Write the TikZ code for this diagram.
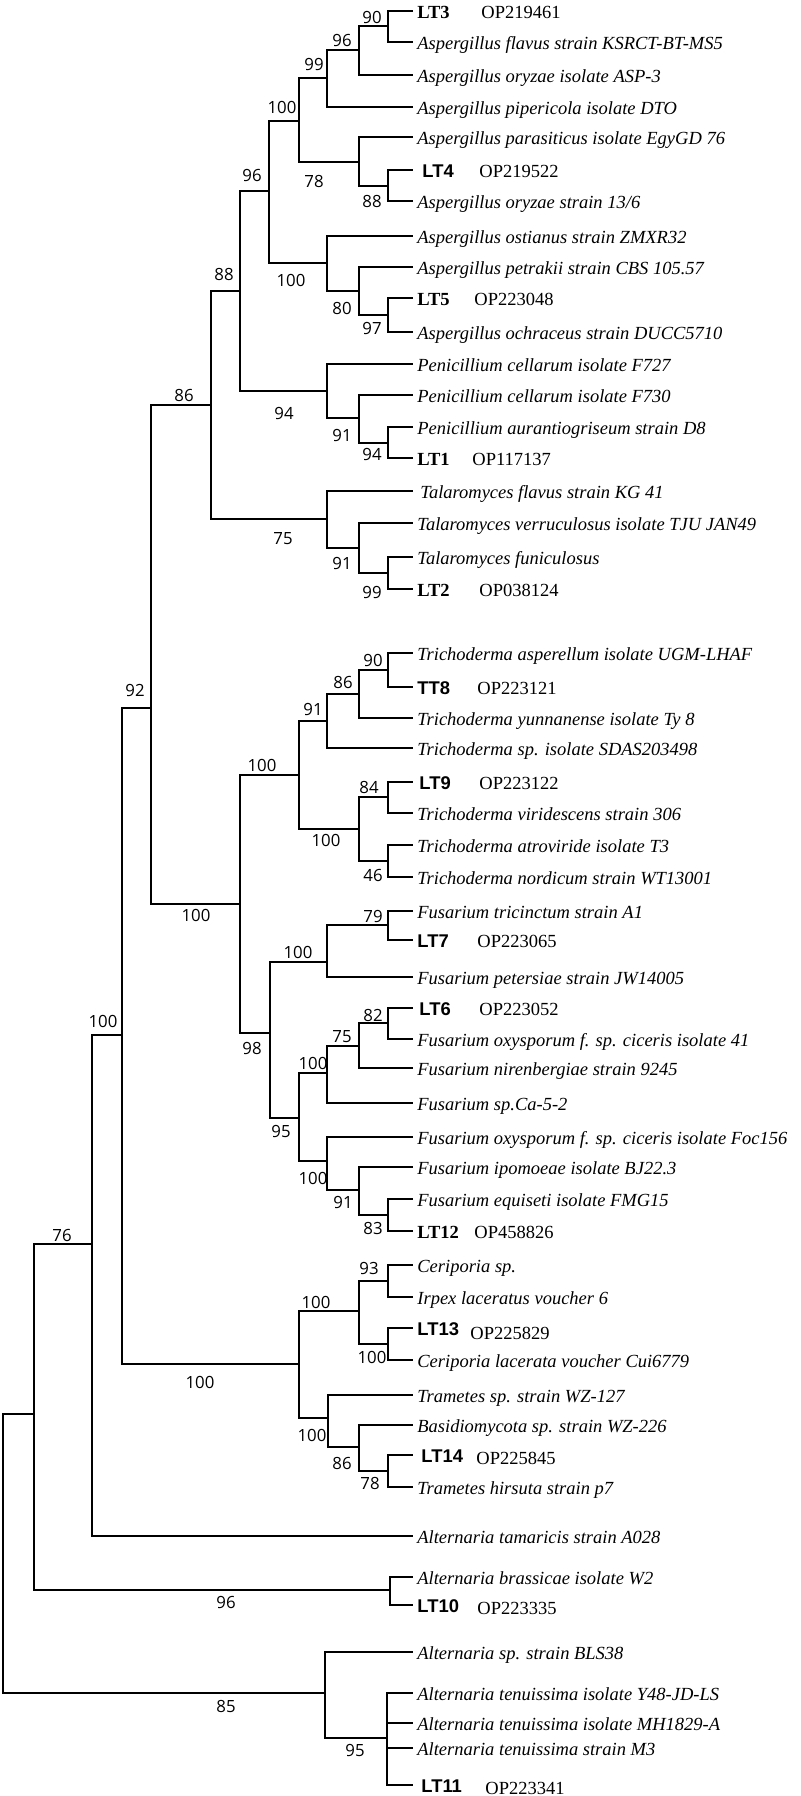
\documentclass[tikz,border=0pt]{standalone}
\usepackage{fontspec}
\setmainfont{Liberation Serif}
\newfontfamily\lsans{Liberation Sans}
\newfontfamily\bsfont{Open Sans}
\begin{document}
\begin{tikzpicture}[x=0.5pt,y=-0.5pt]
\tikzset{
 br/.style={draw=black, line width=1pt},
 sp/.style={anchor=west, inner xsep=2pt, inner ysep=0pt, text height=9pt, text depth=1.3pt, font=\fontsize{9.25}{10}\selectfont\itshape},
 lts/.style={sp, font=\fontsize{9.2}{10}\selectfont\lsans\bfseries},
 ltr/.style={sp, font=\fontsize{9.25}{10}\selectfont\bfseries},
 acc/.style={anchor=west, inner sep=0pt, text height=9pt, text depth=1.3pt, font=\fontsize{9.25}{10}\selectfont},
 bs/.style={inner sep=0pt, font=\fontsize{8.4}{10}\selectfont\bsfont},
}
\useasboundingbox (0,0) rectangle (800,1796);
\fill[white] (0,0) rectangle (800,1796);

% ---------- leaves ----------
\node[ltr] (l1) at (413,11) {LT3}; \node[acc] (a1) at (481,11) {OP219461};
\node[sp] (l2) at (413,42) {Aspergillus flavus strain KSRCT-BT-MS5};
\node[sp] (l3) at (413,75) {Aspergillus oryzae isolate ASP-3};
\node[sp] (l4) at (413,107) {Aspergillus pipericola isolate DTO};
\node[sp] (l5) at (413,137) {Aspergillus parasiticus isolate EgyGD 76};
\node[lts, inner xsep=4.5pt] (l6) at (413,170) {LT4}; \node[acc] (a6) at (479,170) {OP219522};
\node[sp] (l7) at (413,201) {Aspergillus oryzae strain 13/6};
\node[sp] (l8) at (413,236) {Aspergillus ostianus strain ZMXR32};
\node[sp] (l9) at (413,267) {Aspergillus petrakii strain CBS 105.57};
\node[ltr] (l10) at (413,298) {LT5}; \node[acc] (a10) at (474,298) {OP223048};
\node[sp] (l11) at (413,332) {Aspergillus ochraceus strain DUCC5710};
\node[sp] (l12) at (413,364) {Penicillium cellarum isolate F727};
\node[sp] (l13) at (413,395) {Penicillium cellarum isolate F730};
\node[sp] (l14) at (413,427) {Penicillium aurantiogriseum strain D8};
\node[ltr] (l15) at (413,458) {LT1}; \node[acc] (a15) at (472,458) {OP117137};
\node[sp, inner xsep=3.5pt] (l16) at (413,491) {Talaromyces flavus strain KG 41};
\node[sp] (l17) at (413,523) {Talaromyces verruculosus isolate TJU JAN49};
\node[sp] (l18) at (413,557) {Talaromyces funiculosus};
\node[ltr] (l19) at (413,589) {LT2}; \node[acc] (a19) at (479,589) {OP038124};
\node[sp] (l20) at (413,653) {Trichoderma asperellum isolate UGM-LHAF};
\node[lts] (l21) at (413,687) {TT8}; \node[acc] (a21) at (477,687) {OP223121};
\node[sp] (l22) at (413,718) {Trichoderma yunnanense isolate Ty 8};
\node[sp] (l23) at (413,748) {Trichoderma sp. isolate SDAS203498};
\node[lts, inner xsep=3pt] (l24) at (413,782) {LT9}; \node[acc] (a24) at (479,782) {OP223122};
\node[sp] (l25) at (413,813) {Trichoderma viridescens strain 306};
\node[sp] (l26) at (413,845) {Trichoderma atroviride isolate T3};
\node[sp] (l27) at (413,877) {Trichoderma nordicum strain WT13001};
\node[sp] (l28) at (413,911) {Fusarium tricinctum strain A1};
\node[lts] (l29) at (413,940) {LT7}; \node[acc] (a29) at (477,940) {OP223065};
\node[sp] (l30) at (413,977) {Fusarium petersiae strain JW14005};
\node[lts, inner xsep=3pt] (l31) at (413,1008) {LT6}; \node[acc] (a31) at (479,1008) {OP223052};
\node[sp] (l32) at (413,1039) {Fusarium oxysporum f. sp. ciceris isolate 41};
\node[sp] (l33) at (413,1068) {Fusarium nirenbergiae strain 9245};
\node[sp] (l34) at (413,1103) {Fusarium sp.Ca-5-2};
\node[sp] (l35) at (413,1137) {Fusarium oxysporum f. sp. ciceris isolate Foc156};
\node[sp] (l36) at (413,1167) {Fusarium ipomoeae isolate BJ22.3};
\node[sp] (l37) at (413,1199) {Fusarium equiseti isolate FMG15};
\node[ltr] (l38) at (413,1231) {LT12}; \node[acc] (a38) at (474,1231) {OP458826};
\node[sp] (l39) at (413,1265) {Ceriporia sp.};
\node[sp] (l40) at (413,1297) {Irpex laceratus voucher 6};
\node[lts] (l41) at (413,1328) {LT13}; \node[acc] (a41) at (470,1332) {OP225829};
\node[sp] (l42) at (413,1360) {Ceriporia lacerata voucher Cui6779};
\node[sp] (l43) at (413,1395) {Trametes sp. strain WZ-127};
\node[sp] (l44) at (413,1425) {Basidiomycota sp. strain WZ-226};
\node[lts, inner xsep=4pt] (l45) at (413,1455) {LT14}; \node[acc] (a45) at (476,1457) {OP225845};
\node[sp] (l46) at (413,1487) {Trametes hirsuta strain p7};
\node[sp] (l47) at (413,1536) {Alternaria tamaricis strain A028};
\node[sp] (l48) at (413,1577) {Alternaria brassicae isolate W2};
\node[lts] (l49) at (413,1605) {LT10}; \node[acc] (a49) at (477,1607) {OP223335};
\node[sp] (l50) at (413,1652) {Alternaria sp. strain BLS38};
\node[sp] (l51) at (413,1693) {Alternaria tenuissima isolate Y48-JD-LS};
\node[sp] (l52) at (413,1723) {Alternaria tenuissima isolate MH1829-A};
\node[sp] (l53) at (413,1748) {Alternaria tenuissima strain M3};
\node[lts, inner xsep=4pt] (l54) at (413,1785) {LT11}; \node[acc] (a54) at (485,1787) {OP223341};

% ---------- internal nodes ----------
\coordinate (root) at (3,1553);
\coordinate (n76) at (34,1414);
\coordinate (nA) at (92,1244);
\coordinate (nB) at (122,1035);
\coordinate (n92) at (151,708);
\coordinate (n86) at (211,405);
\coordinate (n88) at (240,291);
\coordinate (n96b) at (269,191);
\coordinate (n100a) at (299,121);
\coordinate (n99) at (327,78);
\coordinate (n96a) at (359,50);
\coordinate (n90) at (388,26);
\coordinate (n78) at (359,162);
\coordinate (n88a) at (388,186);
\coordinate (n100b) at (327,263);
\coordinate (n80) at (359,291);
\coordinate (n97) at (388,315);
\coordinate (n94b) at (327,391);
\coordinate (n91a) at (359,418);
\coordinate (n94a) at (388,443);
\coordinate (n75) at (327,519);
\coordinate (n91b) at (359,548);
\coordinate (n99b) at (388,573);
\coordinate (nTF) at (240,904);
\coordinate (n100c) at (299,775);
\coordinate (n91c) at (327,721);
\coordinate (n86c) at (359,694);
\coordinate (n90c) at (388,670);
\coordinate (n100d) at (359,829);
\coordinate (n84) at (388,797);
\coordinate (n46) at (388,861);
\coordinate (n98) at (270,1033);
\coordinate (n100e) at (327,962);
\coordinate (n79) at (388,925);
\coordinate (n95) at (299,1118);
\coordinate (n100f) at (327,1073);
\coordinate (n75b) at (359,1046);
\coordinate (n82) at (388,1023);
\coordinate (n100g) at (327,1161);
\coordinate (n91d) at (359,1190);
\coordinate (n83) at (388,1215);
\coordinate (nBas) at (299,1364);
\coordinate (n100h) at (359,1311);
\coordinate (n93) at (388,1281);
\coordinate (n100j) at (388,1344);
\coordinate (n100i) at (328,1418);
\coordinate (n86d) at (359,1447);
\coordinate (n78b) at (388,1471);
\coordinate (n96z) at (390,1590);
\coordinate (n85) at (325,1693);
\coordinate (n95z) at (387,1738);

% ---------- branches ----------
\draw[br] (root) |- (n76); \draw[br] (root) |- (n85);
\draw[br] (n76) |- (nA); \draw[br] (n76) |- (n96z);
\draw[br] (nA) |- (nB); \draw[br] (nA) |- (l47.west);
\draw[br] (nB) |- (n92); \draw[br] (nB) |- (nBas);
\draw[br] (n92) |- (n86); \draw[br] (n92) |- (nTF);
\draw[br] (n86) |- (n88); \draw[br] (n86) |- (n75);
\draw[br] (n88) |- (n96b); \draw[br] (n88) |- (n94b);
\draw[br] (n96b) |- (n100a); \draw[br] (n96b) |- (n100b);
\draw[br] (n100a) |- (n99); \draw[br] (n100a) |- (n78);
\draw[br] (n99) |- (n96a); \draw[br] (n99) |- (l4.west);
\draw[br] (n96a) |- (n90); \draw[br] (n96a) |- (l3.west);
\draw[br] (n90) |- (l1.west); \draw[br] (n90) |- (l2.west);
\draw[br] (n78) |- (l5.west); \draw[br] (n78) |- (n88a);
\draw[br] (n88a) |- (l6.west); \draw[br] (n88a) |- (l7.west);
\draw[br] (n100b) |- (l8.west); \draw[br] (n100b) |- (n80);
\draw[br] (n80) |- (l9.west); \draw[br] (n80) |- (n97);
\draw[br] (n97) |- (l10.west); \draw[br] (n97) |- (l11.west);
\draw[br] (n94b) |- (l12.west); \draw[br] (n94b) |- (n91a);
\draw[br] (n91a) |- (l13.west); \draw[br] (n91a) |- (n94a);
\draw[br] (n94a) |- (l14.west); \draw[br] (n94a) |- (l15.west);
\draw[br] (n75) |- (l16.west); \draw[br] (n75) |- (n91b);
\draw[br] (n91b) |- (l17.west); \draw[br] (n91b) |- (n99b);
\draw[br] (n99b) |- (l18.west); \draw[br] (n99b) |- (l19.west);
\draw[br] (nTF) |- (n100c); \draw[br] (nTF) |- (n98);
\draw[br] (n100c) |- (n91c); \draw[br] (n100c) |- (n100d);
\draw[br] (n91c) |- (n86c); \draw[br] (n91c) |- (l23.west);
\draw[br] (n86c) |- (n90c); \draw[br] (n86c) |- (l22.west);
\draw[br] (n90c) |- (l20.west); \draw[br] (n90c) |- (l21.west);
\draw[br] (n100d) |- (n84); \draw[br] (n100d) |- (n46);
\draw[br] (n84) |- (l24.west); \draw[br] (n84) |- (l25.west);
\draw[br] (n46) |- (l26.west); \draw[br] (n46) |- (l27.west);
\draw[br] (n98) |- (n100e); \draw[br] (n98) |- (n95);
\draw[br] (n100e) |- (n79); \draw[br] (n100e) |- (l30.west);
\draw[br] (n79) |- (l28.west); \draw[br] (n79) |- (l29.west);
\draw[br] (n95) |- (n100f); \draw[br] (n95) |- (n100g);
\draw[br] (n100f) |- (n75b); \draw[br] (n100f) |- (l34.west);
\draw[br] (n75b) |- (n82); \draw[br] (n75b) |- (l33.west);
\draw[br] (n82) |- (l31.west); \draw[br] (n82) |- (l32.west);
\draw[br] (n100g) |- (l35.west); \draw[br] (n100g) |- (n91d);
\draw[br] (n91d) |- (l36.west); \draw[br] (n91d) |- (n83);
\draw[br] (n83) |- (l37.west); \draw[br] (n83) |- (l38.west);
\draw[br] (nBas) |- (n100h); \draw[br] (nBas) |- (n100i);
\draw[br] (n100h) |- (n93); \draw[br] (n100h) |- (n100j);
\draw[br] (n93) |- (l39.west); \draw[br] (n93) |- (l40.west);
\draw[br] (n100j) |- (l41.west); \draw[br] (n100j) |- (l42.west);
\draw[br] (n100i) |- (l43.west); \draw[br] (n100i) |- (n86d);
\draw[br] (n86d) |- (l44.west); \draw[br] (n86d) |- (n78b);
\draw[br] (n78b) |- (l45.west); \draw[br] (n78b) |- (l46.west);
\draw[br] (n96z) |- (l48.west); \draw[br] (n96z) |- (l49.west);
\draw[br] (n85) |- (l50.west); \draw[br] (n85) |- (n95z);
\draw[br] (n95z) |- (l51.west); \draw[br] (n95z) |- (l52.west);
\draw[br] (n95z) |- (l53.west); \draw[br] (n95z) |- (l54.west);

% ---------- bootstrap values ----------
\node[bs] (b90a) at (372,17) {90};
\node[bs] (b96a) at (342,40) {96};
\node[bs] (b99a) at (314,64) {99};
\node[bs] (b100a) at (282,107) {100};
\node[bs] (b96b) at (252,175) {96};
\node[bs] (b78a) at (314,181) {78};
\node[bs] (b88a) at (372,201) {88};
\node[bs] (b88b) at (224,274) {88};
\node[bs] (b100b) at (291,280) {100};
\node[bs] (b80) at (342,308) {80};
\node[bs] (b97) at (372,328) {97};
\node[bs] (b86a) at (184,395) {86};
\node[bs] (b94b) at (284,413) {94};
\node[bs] (b91a) at (342,435) {91};
\node[bs] (b94a) at (372,454) {94};
\node[bs] (b75a) at (283,539) {75};
\node[bs] (b91b) at (342,563) {91};
\node[bs] (b99b) at (372,592) {99};
\node[bs] (b90c) at (373,660) {90};
\node[bs] (b86c) at (343,682) {86};
\node[bs] (b92) at (135,690) {92};
\node[bs] (b91c) at (313,709) {91};
\node[bs] (b100c) at (262,765) {100};
\node[bs] (b84) at (369,787) {84};
\node[bs] (b100d) at (326,840) {100};
\node[bs] (b46) at (373,875) {46};
\node[bs] (b79) at (373,916) {79};
\node[bs] (b100tf) at (196,915) {100};
\node[bs] (b100e) at (298,952) {100};
\node[bs] (b82) at (373,1015) {82};
\node[bs] (b75b) at (342,1037) {75};
\node[bs] (b98) at (252,1048) {98};
\node[bs] (b100f) at (313,1063) {100};
\node[bs] (b95) at (281,1131) {95};
\node[bs] (b100g) at (313,1178) {100};
\node[bs] (b91d) at (343,1202) {91};
\node[bs] (b83) at (373,1228) {83};
\node[bs] (b100B) at (103,1021) {100};
\node[bs] (b76) at (62,1235) {76};
\node[bs] (b93) at (369,1268) {93};
\node[bs] (b100h) at (316,1302) {100};
\node[bs] (b100j) at (372,1357) {100};
\node[bs] (b100bas) at (200,1382) {100};
\node[bs] (b100i) at (312,1435) {100};
\node[bs] (b86d) at (342,1463) {86};
\node[bs] (b78b) at (370,1483) {78};
\node[bs] (b96z) at (226,1602) {96};
\node[bs] (b85) at (226,1706) {85};
\node[bs] (b95z) at (355,1750) {95};
\end{tikzpicture}
\end{document}
